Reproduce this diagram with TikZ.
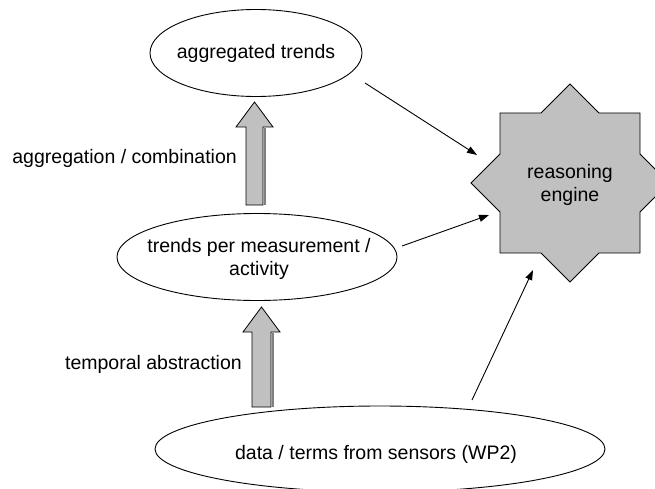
\documentclass[tikz,border=0pt]{standalone}
\usepackage{fontspec}
\setmainfont{Liberation Sans}
\usetikzlibrary{shapes.geometric,arrows.meta}
\definecolor{boxgray}{HTML}{C0C0C0}
\definecolor{shadegray}{HTML}{808080}
\begin{document}
\begin{tikzpicture}[x=1pt,y=-1pt,
  every node/.style={font=\fontsize{19.5}{23.5}\selectfont},
  ell/.style={draw, line width=0.9pt, ellipse, inner sep=0pt},
  lbl/.style={align=center, inner sep=0pt},
  conn/.style={line width=0.9pt, -{Triangle[length=10pt,width=7pt]}},
  blockarrow/.style={draw, fill=boxgray, line width=0.8pt, line join=miter},
  starshape/.style={draw, fill=boxgray, line width=0.9pt, line join=miter}]
\useasboundingbox (0,0) rectangle (655,489);
% ellipses
\node[ell, minimum width=212pt, minimum height=87pt] (agg) at (256,53) {};
\node[lbl] (aggt) at (agg) {aggregated trends};
\node[ell, minimum width=280pt, minimum height=87pt] (trend) at (257,257) {};
\node[lbl] (trendt) at (259,259) {trends per measurement /\\activity};
\node[ell, minimum width=450pt, minimum height=86pt] (data) at (380,449) {};
\node[lbl] (datat) at (376,454) {data / terms from sensors (WP2)};
% star
\coordinate (sc) at (570,183);
\draw[starshape] (570,84) -- (599,113) -- (640,113) -- (640,154) -- (669,183)
  -- (640,212) -- (640,253) -- (599,253) -- (570,282) -- (541,253) -- (500,253)
  -- (500,212) -- (471,183) -- (500,154) -- (500,113) -- (541,113) -- cycle;
\node[lbl] (eng) at (570,185) {reasoning\\engine};
% block arrows
\draw[shadegray, line width=2pt] (264.5,128) -- (264.5,205);
\draw[blockarrow] (246,205) -- (246,127) -- (236,127) -- (254.5,102) -- (273,127)
  -- (263,127) -- (263,205) -- cycle;
\draw[shadegray, line width=2pt] (272.5,333) -- (272.5,407);
\draw[blockarrow] (252,407) -- (252,332) -- (243,332) -- (261.5,307) -- (280,332)
  -- (271,332) -- (271,407) -- cycle;
% labels
\node[lbl, anchor=east] (aggc) at (237,158) {aggregation / combination};
\node[lbl, anchor=east] (temp) at (242,364) {temporal abstraction};
% connectors
\coordinate (a1s) at (365,83);
\coordinate (a1e) at (477,155);
\coordinate (a2s) at (402,246);
\coordinate (a2e) at (489,215);
\coordinate (a3s) at (472,400);
\coordinate (a3e) at (533,270);
\draw[conn] (a1s) -- (a1e);
\draw[conn] (a2s) -- (a2e);
\draw[conn] (a3s) -- (a3e);
\end{tikzpicture}
\end{document}
